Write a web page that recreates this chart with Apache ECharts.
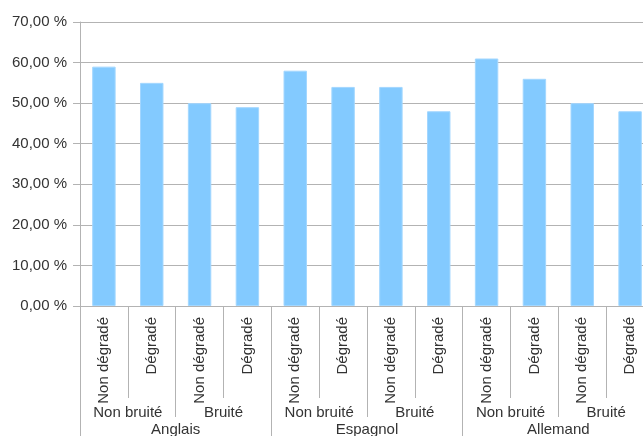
<!DOCTYPE html>
<html><head><meta charset="utf-8">
<script src="https://cdn.jsdelivr.net/npm/echarts@6/dist/echarts.min.js"></script>
<style>html,body{margin:0;padding:0;background:#fff}#c{width:643px;height:436px}</style>
</head><body><div id="c"></div>
<script>
const categories = ['Non dégradé','Dégradé','Non dégradé','Dégradé','Non dégradé','Dégradé','Non dégradé','Dégradé','Non dégradé','Dégradé','Non dégradé','Dégradé'];
const noiseLabels = ['Non bruité','Bruité','Non bruité','Bruité','Non bruité','Bruité'];
const languages = ['Anglais','Espagnol','Allemand'];
const values = [59, 55, 50, 49, 58, 54, 54, 48, 61, 56, 50, 48];
const yTicks = {min: 0, max: 70, interval: 10};

const font = 'Liberation Sans, Arial, sans-serif';
const gray = '#b3b3b3';
const txt = '#333333';
const chart = echarts.init(document.getElementById('c'), null, {renderer: 'canvas'});
chart.setOption({
  animation: false,
  grid: {left: 80, top: 22, width: 574, height: 284, containLabel: false, outerBoundsMode: 'none'},
  xAxis: [
    {type: 'category', data: categories, position: 'bottom',
     axisLine: {show: true, lineStyle: {color: gray}},
     axisTick: {show: true, interval: 0, length: 92, lineStyle: {color: gray}},
     axisLabel: {interval: 0, rotate: 90, margin: 11, fontSize: 15, fontFamily: font, color: txt}},
    {type: 'category', data: noiseLabels, position: 'bottom',
     axisLine: {show: false},
     axisTick: {show: true, interval: 0, length: 111, lineStyle: {color: gray}},
     axisLabel: {interval: 0, margin: 99, fontSize: 15, fontFamily: font, color: txt}},
    {type: 'category', data: languages, position: 'bottom',
     axisLine: {show: false},
     axisTick: {show: true, interval: 0, length: 130, lineStyle: {color: gray}},
     axisLabel: {interval: 0, margin: 116, fontSize: 15, fontFamily: font, color: txt}}
  ],
  yAxis: {type: 'value', min: yTicks.min, max: yTicks.max, interval: yTicks.interval,
    axisLine: {show: true, lineStyle: {color: gray}},
    axisTick: {show: true, length: 7, lineStyle: {color: gray}},
    splitLine: {show: true, lineStyle: {color: gray}},
    axisLabel: {margin: 13, fontSize: 15, fontFamily: font, color: txt,
      formatter: v => v.toFixed(2).replace('.', ',') + ' %'}},
  series: [{type: 'bar', xAxisIndex: 0, data: values, barWidth: '49%',
    itemStyle: {color: '#83caff', borderColor: '#a3d7ff', borderWidth: 1}}]
});
</script></body></html>
